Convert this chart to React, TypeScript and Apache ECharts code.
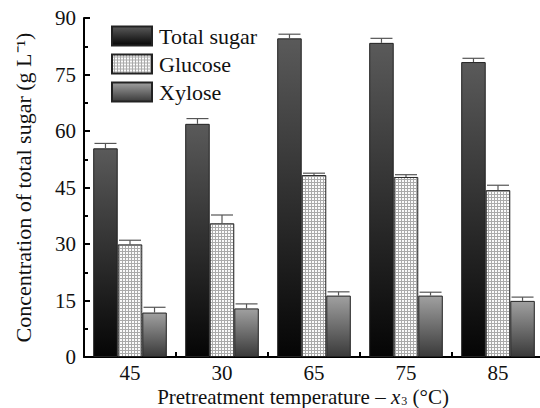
import React, { useEffect, useRef } from "react";
import * as echarts from "echarts";

const categories = ["45", "30", "65", "75", "85"];
const totalSugar = [55.4, 61.9, 84.6, 83.4, 78.3];
const totalSugarErr = [1.3, 1.4, 1.1, 1.2, 1.0];
const glucose = [29.9, 35.5, 48.3, 47.8, 44.3];
const glucoseErr = [1.1, 2.2, 0.5, 0.6, 1.3];
const xylose = [11.8, 12.9, 16.3, 16.3, 14.9];
const xyloseErr = [1.4, 1.2, 1.0, 0.9, 1.0];
const seriesNames = ["Total sugar", "Glucose", "Xylose"];

const FONT = "Liberation Serif";

function grad(top: string, bottom: string) {
  return new echarts.graphic.LinearGradient(0, 0, 0, 1, [
    { offset: 0, color: top },
    { offset: 1, color: bottom },
  ]);
}

function gridPattern(): any {
  const c = document.createElement("canvas");
  c.width = 3;
  c.height = 3;
  const ctx = c.getContext("2d");
  if (!ctx) return "#d6d6d6";
  ctx.fillStyle = "#fbfbfb";
  ctx.fillRect(0, 0, 3, 3);
  ctx.fillStyle = "#aaaaaa";
  ctx.fillRect(0, 2, 3, 1);
  ctx.fillRect(2, 0, 1, 3);
  return { image: c, repeat: "repeat" };
}

function errSeries(k: number, vals: number[], errs: number[]) {
  return {
    type: "custom",
    name: "err" + k,
    z: 5,
    data: vals.map((v, i) => [i, v, errs[i]]),
    renderItem: (params: any, api: any) => {
      const i = api.value(0);
      const v = api.value(1);
      const e = api.value(2);
      const band = api.size([1, 0])[0];
      const bw = (band * 0.8) / 3;
      const p0 = api.coord([i, v]);
      const p1 = api.coord([i, v + e]);
      const cx = p0[0] + (k - 1) * bw;
      const hw = 11;
      const style = { stroke: "#555", lineWidth: 1.2 };
      return {
        type: "group",
        children: [
          { type: "line", shape: { x1: cx, y1: p0[1], x2: cx, y2: p1[1] }, style },
          { type: "line", shape: { x1: cx - hw, y1: p1[1], x2: cx + hw, y2: p1[1] }, style },
        ],
      };
    },
  };
}

export default function App() {
  const ref = useRef<HTMLDivElement>(null);
  useEffect(() => {
    if (!ref.current) return;
    const chart = echarts.init(ref.current, undefined, { renderer: "svg" });
    const fills = [
      grad("#5a5a5a", "#050505"),
      gridPattern(),
      grad("#a0a0a0", "#3a3a3a"),
    ];
    const data = [totalSugar, glucose, xylose];
    chart.setOption({
      animation: false,
      backgroundColor: "#fff",
      grid: { left: 84, top: 18, right: -4, bottom: 51, containLabel: false, outerBoundsMode: "none" },
      legend: {
        data: seriesNames.map((n) => ({ name: n, icon: "rect" })),
        orient: "vertical",
        left: 106,
        top: 20,
        itemWidth: 40,
        itemHeight: 19,
        itemGap: 6,
        textStyle: { fontFamily: FONT, fontSize: 22, lineHeight: 22, color: "#111", padding: [0, 0, 0, 2] },
      },
      graphic: [
        {
          type: "text",
          x: 303,
          y: 397,
          style: {
            text: "{a|Pretreatment temperature – }{i|x}{s|3}{a| (°C)}",
            align: "center",
            verticalAlign: "middle",
            rich: {
              a: { fontFamily: FONT, fontSize: 21, lineHeight: 20, fill: "#111" },
              i: { fontFamily: FONT, fontSize: 21, lineHeight: 20, fontStyle: "italic", fill: "#111" },
              s: { fontFamily: FONT, fontSize: 12, lineHeight: 12, verticalAlign: "bottom", fill: "#111", padding: [0, 0, 0, 1] },
            },
          },
        },
      ],
      xAxis: {
        type: "category",
        data: categories,
        axisLine: { lineStyle: { color: "#000", width: 2 } },
        axisTick: { show: true, inside: true, length: 5, lineStyle: { color: "#000", width: 2 } },
        axisLabel: { fontFamily: FONT, fontSize: 21, lineHeight: 20, color: "#111", margin: 6 },
      },
      yAxis: {
        type: "value",
        min: 0,
        max: 90,
        interval: 15,
        name: "Concentration of total sugar (g L⁻¹)",
        nameLocation: "middle",
        nameGap: 50,
        nameTextStyle: { fontFamily: FONT, fontSize: 22, color: "#111" },
        axisLine: { show: true, lineStyle: { color: "#000", width: 2 } },
        axisTick: { show: true, inside: true, length: 6, lineStyle: { color: "#000", width: 2 } },
        minorTick: { show: true, splitNumber: 2, length: 4, lineStyle: { color: "#000", width: 2 } },
        splitLine: { show: false },
        axisLabel: { fontFamily: FONT, fontSize: 21, color: "#111", margin: 8 },
      },
      series: [
        ...seriesNames.map((n, k) => ({
          type: "bar",
          name: n,
          data: data[k],
          barGap: "0%",
          barCategoryGap: "20%",
          itemStyle: { color: fills[k], borderColor: "#222", borderWidth: 1 },
        })),
        errSeries(0, totalSugar, totalSugarErr),
        errSeries(1, glucose, glucoseErr),
        errSeries(2, xylose, xyloseErr),
      ],
    });
    return () => chart.dispose();
  }, []);
  return <div ref={ref} style={{ width: 540, height: 408, position: "absolute", left: 0, top: 0 }} />;
}
